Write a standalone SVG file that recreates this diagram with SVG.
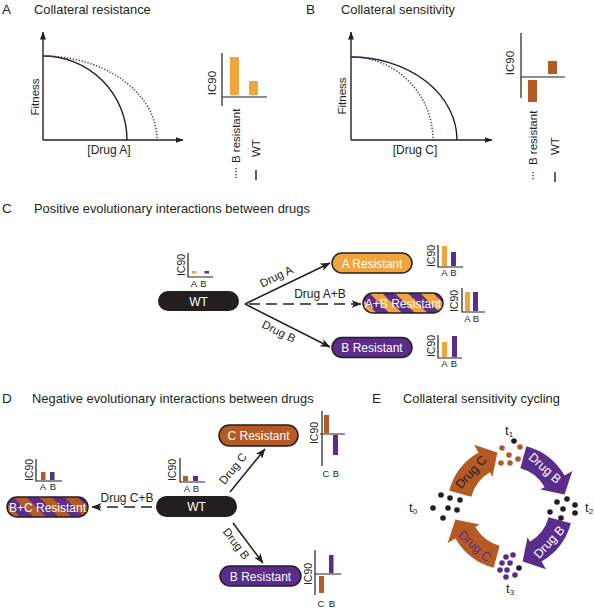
<svg xmlns="http://www.w3.org/2000/svg" width="594" height="612" viewBox="0 0 594 612">
<defs>
<style>
text{font-family:"Liberation Sans",Arial,sans-serif;fill:#231F20}
.L{font-size:13.5px}
.H{font-size:12.9px}
.ax{font-size:12px}
.lg{font-size:11.5px}
.s{font-size:9.5px}
.ic{font-size:10.5px}
.pt{font-size:12px;fill:#fff;text-anchor:middle}
.ln{stroke:#231F20;stroke-width:1.4;fill:none}
.cx{stroke:#231F20;stroke-width:1.2;fill:none}
.or{fill:#F1A33C}
.br{fill:#B55A25}
.pu{fill:#5A2D8C}
.bk{fill:#231F20}
.m{text-anchor:middle}
.pill{stroke:#231F20;stroke-width:1.5}
.dot{stroke:#5A2D8C;stroke-width:1.5;fill:none;stroke-dasharray:1.3 1.7}
.arr{stroke:#231F20;stroke-width:1.5;fill:none;marker-end:url(#ah)}
.dash{stroke-dasharray:11 6}
</style>
<marker id="ah" viewBox="0 0 10 8" refX="9.5" refY="4" markerWidth="10" markerHeight="8" markerUnits="userSpaceOnUse" orient="auto"><path d="M0,0 L10,4 L0,8 L2.5,4 Z" fill="#231F20"/></marker>
<marker id="axh" viewBox="0 0 8 6" refX="7.5" refY="3" markerWidth="8" markerHeight="6" markerUnits="userSpaceOnUse" orient="auto"><path d="M0,0 L8,3 L0,6 Z" fill="#231F20"/></marker>
<pattern id="stAB" width="18" height="18" patternUnits="userSpaceOnUse" patternTransform="rotate(-45)"><rect width="9" height="18" fill="#F1A33C"/><rect x="9" width="9" height="18" fill="#5A2D8C"/></pattern>
<pattern id="stBC" width="18" height="18" patternUnits="userSpaceOnUse" patternTransform="rotate(-45)"><rect width="9" height="18" fill="#B55A25"/><rect x="9" width="9" height="18" fill="#5A2D8C"/></pattern>
<path id="ring" d="M-60.85,-16.31 A63,63 0 0 1 -31.5,-54.56 L-36,-62.35 L-12.6,-54.56 L-17.5,-30.31 L-20,-34.64 A40,40 0 0 0 -38.64,-10.35 Z"/>
</defs>

<!-- Panel A -->
<g id="panelA">
<text class="L" x="2" y="14">A</text>
<text class="H" x="34" y="14">Collateral resistance</text>
<path class="ln" d="M43,140 V32" marker-end="url(#axh)"/>
<path class="ln" d="M43,140 H183" marker-end="url(#axh)"/>
<path class="ln" d="M43,56 A84,84 0 0 1 127,140"/>
<path class="dot" d="M43,56 A114,84 0 0 1 157,140"/>
<text class="ax m" x="109" y="154">[Drug A]</text>
<text class="lg m" transform="translate(39,97) rotate(-90)">Fitness</text>
<path class="cx" d="M222,53 V106 M222,97 H267"/>
<rect class="or" x="230" y="57" width="9" height="38"/>
<rect class="or" x="249" y="81" width="9" height="14"/>
<text class="lg m" transform="translate(216,83) rotate(-90)">IC90</text>
<text class="lg" transform="translate(240,163) rotate(-90)">B resistant</text>
<text class="lg" transform="translate(260,157) rotate(-90)">WT</text>
<path class="dot" d="M236,168 V178"/>
<path class="ln" d="M256,170 V180"/>
</g>

<!-- Panel B -->
<g id="panelB">
<text class="L" x="306" y="14">B</text>
<text class="H" x="341" y="14">Collateral sensitivity</text>
<path class="ln" d="M351,140 V32" marker-end="url(#axh)"/>
<path class="ln" d="M351,140 H492" marker-end="url(#axh)"/>
<path class="ln" d="M351,57 A106,83 0 0 1 457,140"/>
<path class="dot" d="M351,57 A82,83 0 0 1 433,140"/>
<text class="ax m" x="415" y="154">[Drug C]</text>
<text class="lg m" transform="translate(346,96) rotate(-90)">Fitness</text>
<path class="cx" d="M521,33 V98 M521,77 H565"/>
<rect class="br" x="548" y="61" width="9" height="13"/>
<rect class="br" x="528" y="80" width="9" height="22"/>
<text class="lg m" transform="translate(514,63) rotate(-90)">IC90</text>
<text class="lg" transform="translate(537,165) rotate(-90)">B resistant</text>
<text class="lg" transform="translate(559,155) rotate(-90)">WT</text>
<path class="dot" d="M533,172 V180"/>
<path class="ln" d="M555,172 V182"/>
</g>

<!-- Panel C -->
<text class="L" x="2" y="213">C</text>
<text class="H" x="34" y="213">Positive evolutionary interactions between drugs</text>

<g id="connC">
<path class="arr" d="M245,304 L330,263"/>
<path class="arr" d="M245,304 L330,347"/>
<path class="arr dash" d="M249,304 H361"/>
<text class="lg m" transform="translate(278,280) rotate(-25.8)">Drug A</text>
<text class="lg m" transform="translate(277,335) rotate(26.8)">Drug B</text>
<text class="ax m" x="320" y="298">Drug A+B</text>
</g>

<g id="nodeC_WT">
<rect class="bk" x="158" y="291" width="81" height="20" rx="10"/>
<text class="pt" x="198.5" y="305.5">WT</text>
<path class="cx" d="M188,253 V277 H213"/>
<rect class="or" x="192" y="271" width="4.5" height="2.5"/>
<rect class="pu" x="204.5" y="271" width="4.5" height="2.5"/>
<text class="ic m" transform="translate(184.5,265) rotate(-90)">IC90</text>
<text class="s m" x="194" y="287">A</text>
<text class="s m" x="203.5" y="287">B</text>
</g>

<g id="nodeC_A">
<rect class="or pill" x="332" y="253" width="80" height="20" rx="10"/>
<text class="pt" x="372" y="267.5">A Resistant</text>
<path class="cx" d="M438,245 V267 H463"/>
<rect class="or" x="442" y="246" width="5" height="20"/>
<rect class="pu" x="451" y="252" width="5" height="14"/>
<text class="ic m" transform="translate(435,256) rotate(-90)">IC90</text>
<text class="s m" x="444.5" y="275.5">A</text>
<text class="s m" x="453.5" y="275.5">B</text>
</g>

<g id="nodeC_AB">
<rect class="pill" fill="url(#stAB)" x="363" y="293" width="80" height="20" rx="10"/>
<text class="pt" x="403" y="307.5">A+B Resistant</text>
<path class="cx" d="M462,288 V312 H485"/>
<rect class="or" x="465" y="292" width="5" height="19"/>
<rect class="pu" x="473" y="292" width="5" height="19"/>
<text class="ic m" transform="translate(458,301) rotate(-90)">IC90</text>
<text class="s m" x="467.5" y="322">A</text>
<text class="s m" x="476" y="322">B</text>
</g>

<g id="nodeC_B">
<rect class="pu pill" x="332" y="337.5" width="80" height="20" rx="10"/>
<text class="pt" x="372" y="352">B Resistant</text>
<path class="cx" d="M438,335 V358 H462"/>
<rect class="or" x="442" y="342" width="5" height="15"/>
<rect class="pu" x="452" y="336" width="5" height="21"/>
<text class="ic m" transform="translate(435,346) rotate(-90)">IC90</text>
<text class="s m" x="444.5" y="366.5">A</text>
<text class="s m" x="454" y="366.5">B</text>
</g>

<!-- Panel D -->
<text class="L" x="2" y="403">D</text>
<text class="H" x="32" y="403">Negative evolutionary interactions between drugs</text>

<g id="connD">
<path class="arr" d="M230,492 L265,449"/>
<path class="arr" d="M233,523 L263,563"/>
<path class="arr dash" d="M152,507 H92"/>
<text class="lg m" transform="translate(236,471) rotate(-51)">Drug C</text>
<text class="lg m" transform="translate(233,546) rotate(53)">Drug B</text>
<text class="ax m" x="127" y="502">Drug C+B</text>
</g>

<g id="nodeD_BC">
<rect class="pill" fill="url(#stBC)" x="7" y="497" width="81" height="20" rx="10"/>
<text class="pt" x="47.5" y="511.5">B+C Resistant</text>
<path class="cx" d="M36,459 V481 H62"/>
<rect class="br" x="41" y="472" width="4.5" height="8"/>
<rect class="pu" x="50" y="472" width="4.5" height="8"/>
<text class="ic m" transform="translate(33,470) rotate(-90)">IC90</text>
<text class="s m" x="43" y="490">A</text>
<text class="s m" x="53" y="490">B</text>
</g>

<g id="nodeD_WT">
<rect class="bk" x="156" y="496" width="81" height="21" rx="10.5"/>
<text class="pt" x="196.5" y="511">WT</text>
<path class="cx" d="M180,458 V482 H205"/>
<rect class="br" x="183" y="476" width="5" height="5"/>
<rect class="pu" x="193" y="476" width="5" height="5"/>
<text class="ic m" transform="translate(176,470) rotate(-90)">IC90</text>
<text class="s m" x="187" y="492">A</text>
<text class="s m" x="196" y="492">B</text>
</g>

<g id="nodeD_C">
<rect class="br pill" x="219" y="425" width="79" height="21" rx="10.5"/>
<text class="pt" x="258.5" y="440">C Resistant</text>
<path class="cx" d="M322,411 V466 M320,434 H345"/>
<rect class="br" x="324" y="415" width="5" height="18"/>
<rect class="pu" x="333" y="435" width="5" height="20"/>
<text class="ic m" transform="translate(318,433) rotate(-90)">IC90</text>
<text class="s m" x="326" y="477">C</text>
<text class="s m" x="336" y="477">B</text>
</g>

<g id="nodeD_B">
<rect class="pu pill" x="220" y="566" width="81" height="20" rx="10"/>
<text class="pt" x="260.5" y="580.5">B Resistant</text>
<path class="cx" d="M315,550 V595 M315,574 H341"/>
<rect class="pu" x="329" y="555" width="4.5" height="18"/>
<rect class="br" x="319" y="576" width="5" height="17"/>
<text class="ic m" transform="translate(312,574) rotate(-90)">IC90</text>
<text class="s m" x="321" y="607">C</text>
<text class="s m" x="332" y="607">B</text>
</g>

<!-- Panel E -->
<text class="L" x="372" y="403">E</text>
<text class="H" x="403" y="403">Collateral sensitivity cycling</text>
<g id="cycle">
<use href="#ring" transform="translate(510,507)" class="br"/>
<use href="#ring" transform="translate(510,507) rotate(90)" class="pu"/>
<use href="#ring" transform="translate(510,507) rotate(180)" class="pu"/>
<use href="#ring" transform="translate(510,507) rotate(270)" class="br"/>
<text class="ax m" transform="translate(471,472) rotate(-48)" y="4.3" style="font-size:12.5px">Drug C</text>
<text class="ax m" transform="translate(545,468) rotate(42)" y="4.3" style="font-size:12.5px;fill:#fff">Drug B</text>
<text class="ax m" transform="translate(549,542) rotate(-48)" y="4.3" style="font-size:12.5px;fill:#fff">Drug B</text>
<text class="ax m" transform="translate(475,546) rotate(42)" y="4.3" style="font-size:12.5px;fill:#5A2D8C">Drug C</text>
</g>
<g id="t0">
<text class="ax" x="409" y="512" style="font-size:13px">t<tspan font-size="8" dy="2">0</tspan></text>
<g class="bk"><circle cx="441" cy="495" r="2.8"/><circle cx="450" cy="498" r="2.8"/><circle cx="460" cy="500" r="2.8"/><circle cx="433" cy="508" r="2.8"/><circle cx="448" cy="508" r="2.8"/><circle cx="457" cy="510" r="2.8"/><circle cx="443" cy="518" r="2.8"/></g>
</g>
<g id="t1">
<text class="ax" x="505" y="435" style="font-size:13px">t<tspan font-size="8" dy="2">1</tspan></text>
<circle class="bk" cx="514" cy="441" r="2.8"/>
<g class="br"><circle cx="502" cy="448" r="2.8"/><circle cx="520" cy="447" r="2.8"/><circle cx="509" cy="455" r="2.8"/><circle cx="501" cy="463" r="2.8"/><circle cx="510" cy="463" r="2.8"/><circle cx="518" cy="459" r="2.8"/></g>
</g>
<g id="t2">
<text class="ax" x="585" y="512" style="font-size:13px">t<tspan font-size="8" dy="2">2</tspan></text>
<g class="bk"><circle cx="557" cy="502" r="2.8"/><circle cx="567" cy="499" r="2.8"/><circle cx="575" cy="505" r="2.8"/><circle cx="550" cy="512" r="2.8"/><circle cx="563" cy="509" r="2.8"/><circle cx="575" cy="513" r="2.8"/><circle cx="561" cy="518" r="2.8"/></g>
</g>
<g id="t3">
<text class="ax" x="506" y="593" style="font-size:13px">t<tspan font-size="8" dy="2">3</tspan></text>
<g class="pu"><circle cx="506" cy="557" r="2.8"/><circle cx="513" cy="555" r="2.8"/><circle cx="502" cy="563" r="2.8"/><circle cx="510" cy="563" r="2.8"/><circle cx="500" cy="570" r="2.8"/><circle cx="507" cy="570" r="2.8"/><circle cx="515" cy="575" r="2.8"/><circle cx="506" cy="577" r="2.8"/></g>
<circle class="bk" cx="519" cy="568" r="2.8"/>
</g>
</svg>
